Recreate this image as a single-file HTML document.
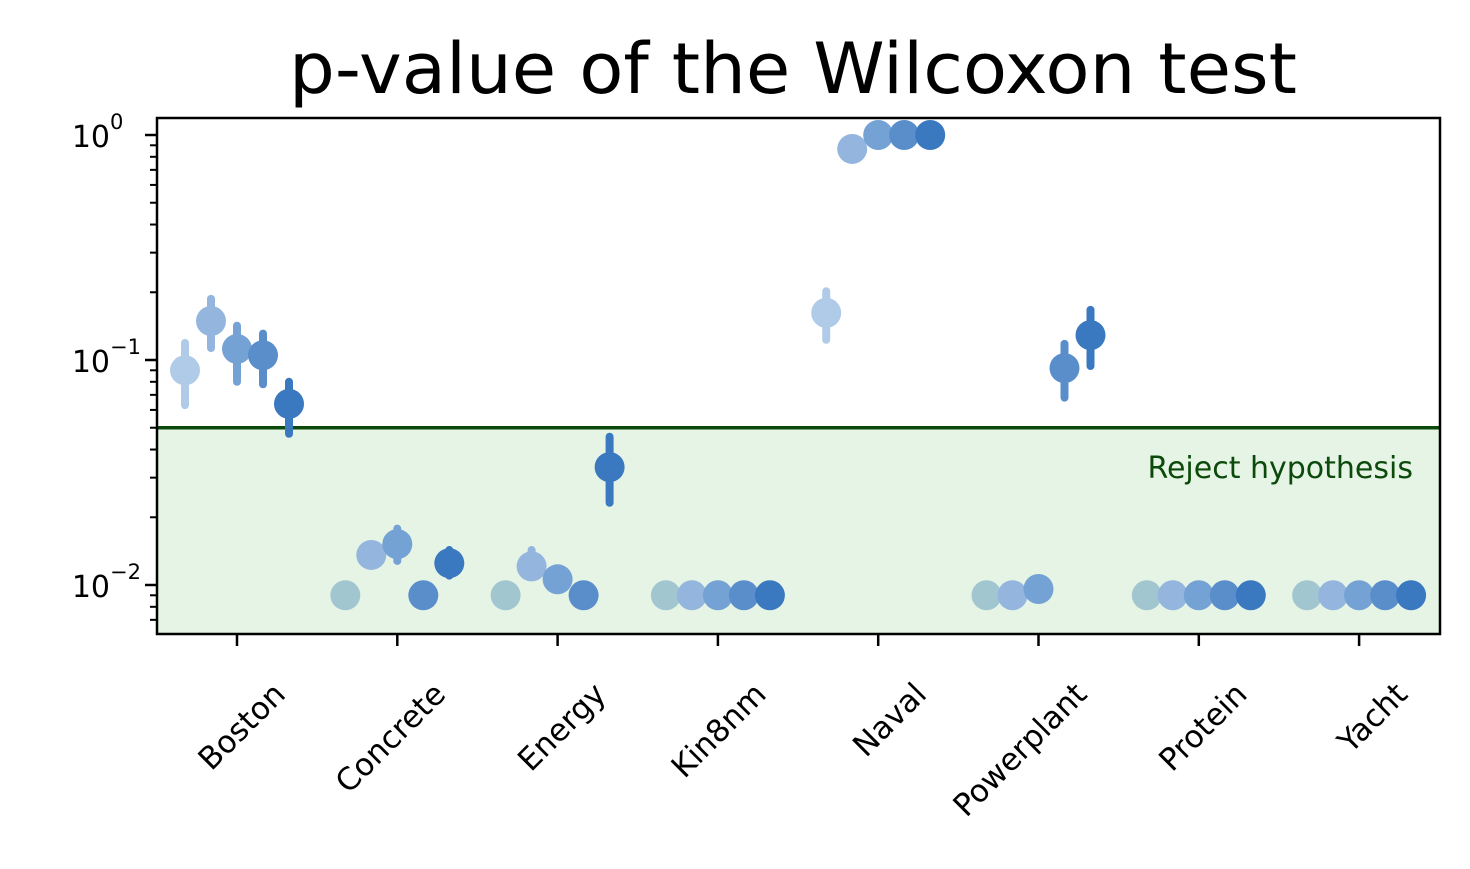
<!DOCTYPE html>
<html><head><meta charset="utf-8"><style>
html,body{margin:0;padding:0;background:#fff;}
svg{display:block;font-family:"DejaVu Sans","Liberation Sans",sans-serif;}
</style></head><body>
<svg id="chart" width="1470" height="869" viewBox="0 0 1470 869" xmlns="http://www.w3.org/2000/svg">
<text x="793" y="93" font-size="70" text-anchor="middle" fill="#000" textLength="1008" lengthAdjust="spacingAndGlyphs">p-value of the Wilcoxon test</text>
<g id="plot"></g>
</svg>
<script>
const categories = ["Boston","Concrete","Energy","Kin8nm","Naval","Powerplant","Protein","Yacht"];
const pValues = [
  [0.090,0.149,0.112,0.105,0.0638],
  [0.009,0.0136,0.0152,0.009,0.0125],
  [0.009,0.0121,0.0106,0.009,0.0334],
  [0.009,0.009,0.009,0.009,0.009],
  [0.162,0.867,1.0,1.0,1.0],
  [0.009,0.009,0.0096,0.092,0.129],
  [0.009,0.009,0.009,0.009,0.009],
  [0.009,0.009,0.009,0.009,0.009]
];
const pLow = [
  [0.063,0.113,0.080,0.078,0.047],
  [null,null,0.0128,null,0.0110],
  [null,0.0111,null,null,0.0232],
  [null,null,null,null,null],
  [0.123,null,null,null,null],
  [null,null,null,0.068,0.094],
  [null,null,null,null,null],
  [null,null,null,null,null]
];
const pHigh = [
  [0.119,0.187,0.142,0.131,0.080],
  [null,null,0.0178,null,0.0143],
  [null,0.0143,null,null,0.0456],
  [null,null,null,null,null],
  [0.202,null,null,null,null],
  [null,null,null,0.118,0.167],
  [null,null,null,null,null],
  [null,null,null,null,null]
];
const threshold = 0.05;
const yTickLabels = ["10","10","10"];
const yTickExps = ["0","\u22121","\u22122"];
const yTickValues = [1,0.1,0.01];

const NS="http://www.w3.org/2000/svg";
const L=157,R=1440,T=118,B=634;
const y=v=>135-225*Math.log10(v);
const x=i=>237+i*160.3;
const off=k=>(k-2)*26;
const palette=["#b0cbe8","#93b5de","#74a2d4","#5a8ecb","#3a78c0"];
const g=document.getElementById('plot');
function mk(t,a,p){const e=document.createElementNS(NS,t);for(const k in a)e.setAttribute(k,a[k]);(p||g).appendChild(e);return e;}

const fill=mk('rect',{x:L,y:y(threshold),width:R-L,height:B-y(threshold),fill:'#e6f4e6'});


const tl=mk('line',{x1:L,x2:R,y1:y(threshold),y2:y(threshold),stroke:'#0b4a0b','stroke-width':3.5});


const rt=mk('text',{x:1413,y:478,'font-size':30,'text-anchor':'end',fill:'#0b4a0b'});
rt.textContent='Reject hypothesis';



categories.forEach((c,i)=>{
  for(let k=0;k<5;k++){
    const v=pValues[i][k];
    let col=palette[k];
    if(k===0&&v<threshold) col='#a2c6d0';
    const cx=x(i)+off(k);
    if(pLow[i][k]!=null){
      const eb=mk('line',{x1:cx,x2:cx,y1:y(pHigh[i][k]),y2:y(pLow[i][k]),stroke:col,'stroke-width':8,'stroke-linecap':'round'});
      
      
    }
    const pt=mk('circle',{cx:cx,cy:y(v),r:15,fill:col});
    
    
  }
  const tk=mk('line',{x1:x(i),x2:x(i),y1:B,y2:B+12,stroke:'#000','stroke-width':2.5});
  
  
  const lb=mk('text',{x:0,y:0,'font-size':31,'text-anchor':'end',fill:'#000',transform:`translate(${x(i)+50},${B+62}) rotate(-45)`});
  lb.textContent=c;
  
  
});

const fr=mk('rect',{x:L,y:T,width:R-L,height:B-T,fill:'none',stroke:'#000','stroke-width':2.5});



yTickValues.forEach((v,j)=>{
  const tk=mk('line',{x1:L-12,x2:L,y1:y(v),y2:y(v),stroke:'#000','stroke-width':2.5});
  
  
  const t=mk('text',{x:L-47,y:y(v)+12,'font-size':30,'text-anchor':'end',fill:'#000'});
  t.textContent=yTickLabels[j];
  
  
  const e=mk('text',{x:L-47,y:y(v)-6,'font-size':21,'text-anchor':'start',fill:'#000'});
  e.textContent=yTickExps[j];
  
  
});
[0.001,0.01,0.1].forEach(d=>{
  for(let m=2;m<=9;m++){
    const v=d*m, yy=y(v);
    if(yy<T||yy>B) continue;
    const mt=mk('line',{x1:L-7,x2:L,y1:yy,y2:yy,stroke:'#000','stroke-width':2});
    
    
  }
});
</script>
</body></html>
